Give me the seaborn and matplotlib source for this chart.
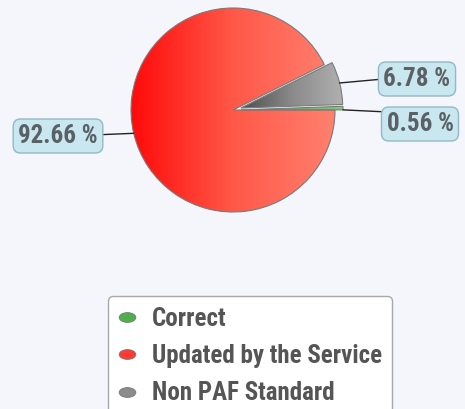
import numpy as np
import seaborn as sns
import matplotlib.pyplot as plt
from matplotlib.lines import Line2D
from matplotlib.path import Path
from matplotlib.transforms import Affine2D
from matplotlib.colors import LinearSegmentedColormap

# data
categories = ['Correct', 'Updated by the Service', 'Non PAF Standard']
shares = [0.56, 92.66, 6.78]
colors = ['#4cb04c', '#ff3a30', '#8c8c8c']

# pie draw order (counter-clockwise from 3 o'clock): Correct, Non PAF, Updated
order = [0, 2, 1]
explode = [8, 8, 0]  # pixels, matplotlib offsets wedges in data units

sns.set_style('white')
plt.rcParams['font.family'] = ['Roboto Condensed', 'DejaVu Sans']

bg = '#f4f6fc'
fig = plt.figure(figsize=(4.65, 4.09), dpi=100, facecolor=bg)
ax = fig.add_axes([0, 0, 1, 1])
ax.set_facecolor(bg)

H = 409
cx, cy, r = 233, H - 110, 102
wedges, _ = ax.pie([shares[i] for i in order], colors=[colors[i] for i in order],
                   explode=explode, startangle=0, counterclock=True,
                   center=(cx, cy), radius=r, frame=True,
                   wedgeprops=dict(edgecolor='#7a7a7a', linewidth=0.8))

# horizontal gradients clipped to wedges
grads = {
    1: ['#ff0a0a', '#ff5848', '#ff806e'],
    2: ['#4e4e4e', '#8a8a8a', '#b0b0b0'],
    0: ['#3c9c3c', '#7cd07c'],
}
grad = np.linspace(0, 1, 256).reshape(1, -1)
for w, idx in zip(wedges, order):
    ext = w.get_path().get_extents(w.get_patch_transform())
    cmap = LinearSegmentedColormap.from_list('g%d' % idx, grads[idx])
    im = ax.imshow(grad, cmap=cmap, aspect='auto', zorder=w.get_zorder(),
                   extent=(ext.x0, ext.x1, ext.y0, ext.y1), interpolation='bilinear')
    im.set_clip_path(w)
    w.set_facecolor('none')
    w.set_zorder(w.get_zorder() + 0.5)
ax.set_xlim(0, 465)
ax.set_ylim(0, H)
ax.set_aspect('equal')
ax.axis('off')

# percentage labels
box = dict(boxstyle='round,pad=0.2,rounding_size=0.3', fc='#c9e7ef', ec='#93b8c6', lw=1)
label_pos = {0: (420, H - 124), 2: (417, H - 79), 1: (58, H - 136)}
rel = {0: (0.02, 1.0), 2: (0.0, 0.5), 1: (1.0, 0.55)}
for w, idx in zip(wedges, order):
    ang = np.deg2rad((w.theta1 + w.theta2) / 2)
    px = w.center[0] + w.r * np.cos(ang)
    py = w.center[1] + w.r * np.sin(ang)
    if idx == 0:
        py = w.center[1]
    ax.annotate('%.2f %%' % shares[idx], xy=(px, py), xytext=label_pos[idx],
                ha='center', va='center', fontsize=18, color='#5b6066',
                fontweight='bold', bbox=box,
                arrowprops=dict(arrowstyle='-', color='#222222', lw=1,
                                shrinkA=0, shrinkB=0, relpos=rel[idx]))

# legend with ellipse markers
ell = Path.unit_circle().transformed(Affine2D().scale(1.7, 1.0))
handles = [Line2D([], [], marker=ell, linestyle='none', markersize=12,
                  markerfacecolor=c, markeredgecolor='#777777', markeredgewidth=0.6)
           for c in colors]
leg = fig.legend(handles, categories, loc='upper left',
                 bbox_to_anchor=(108 / 465, 1 - 296 / H),
                 frameon=True, fancybox=True, facecolor='white', edgecolor='#a8a8a8',
                 fontsize=18, handletextpad=0.62, labelspacing=0.54, borderpad=0.42,
                 handlelength=0.7, borderaxespad=0)
for t in leg.get_texts():
    t.set_color('#555555')
    t.set_fontweight('bold')
leg.get_frame().set_alpha(1)

fig.savefig('out.png', dpi=100, facecolor=bg)
